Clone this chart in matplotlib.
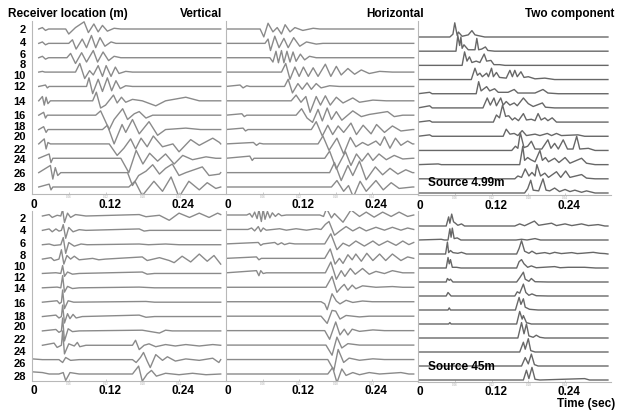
import matplotlib
matplotlib.use("Agg")
import matplotlib.pyplot as plt
from matplotlib.transforms import offset_copy

plt.rcParams["font.family"] = ["Liberation Sans", "DejaVu Sans"]

# === DATA ===
# each trace: list of (time in s, amplitude in units of trace spacing)
receiver_labels = ["2", "4", "6", "8", "10", "12", "14", "16", "18", "20", "22", "24", "26", "28"]
time_labels = ["0", "0.12", "0.24"]
time_ticks = [0.0, 0.12, 0.24]
minor_ticks = [0.06, 0.12, 0.18, 0.24]

top_vertical = [
    [(0.017, 0.1), (0.022, -0.1), (0.027, 0), (0.055, 0), (0.060, -0.35), (0.071, 0.1), (0.085, 0.5), (0.092, -0.25), (0.101, 0.35), (0.108, -0.2), (0.115, 0.25), (0.123, -0.15), (0.134, 0.05), (0.145, 0)],
    [(0.017, 0.1), (0.022, -0.1), (0.027, 0), (0.060, 0), (0.066, 0.25), (0.072, -0.4), (0.082, 0.3), (0.089, -0.3), (0.097, 0.55), (0.104, -0.3), (0.111, 0.4), (0.119, -0.2), (0.129, 0.1), (0.137, 0)],
    [(0.017, 0.1), (0.022, -0.1), (0.027, 0), (0.057, 0), (0.063, 0.3), (0.071, -0.4), (0.081, 0.35), (0.089, -0.3), (0.100, 0.5), (0.107, -0.3), (0.116, 0.4), (0.125, -0.2), (0.134, 0.1), (0.145, 0)],
    [(0.017, 0.05), (0.021, 0), (0.071, 0), (0.078, 0.6), (0.086, -0.45), (0.094, 0.1), (0.100, -0.2), (0.108, 0.45), (0.115, -0.3), (0.121, 0.45), (0.129, -0.3), (0.136, 0.35), (0.142, -0.1), (0.153, 0.05), (0.164, 0)],
    [(0.022, 0.1), (0.025, -0.1), (0.028, 0), (0.089, 0), (0.093, 0.6), (0.099, -0.5), (0.108, 0.5), (0.115, -0.35), (0.123, 0.6), (0.130, -0.3), (0.137, 0.4), (0.144, -0.15), (0.153, 0.05), (0.164, 0)],
    [(0.017, 0.3), (0.020, -0.3), (0.023, 0.25), (0.026, -0.2), (0.030, 0), (0.099, 0), (0.105, 0.6), (0.112, -0.5), (0.120, -0.3), (0.133, 0.4), (0.139, -0.15), (0.146, 0.25), (0.153, -0.1), (0.164, 0.1), (0.180, 0), (0.202, -0.35), (0.218, 0), (0.251, 0.25), (0.273, 0)],
    [(0.019, 0.2), (0.022, -0.2), (0.025, 0), (0.104, 0), (0.112, 0.3), (0.126, -1.0), (0.134, -0.3), (0.148, 0.45), (0.156, -0.3), (0.167, 0.1), (0.175, 0.25), (0.186, -0.2), (0.197, 0)],
    [(0.019, 0.2), (0.023, -0.2), (0.026, 0), (0.115, 0), (0.123, 0.3), (0.134, -1.0), (0.147, 0.35), (0.153, -0.2), (0.164, 0.7), (0.175, -0.3), (0.191, 0.55), (0.205, -0.4), (0.218, 0), (0.251, 0.1), (0.275, 0)],
    [(0.020, 0.35), (0.023, -0.35), (0.026, 0.1), (0.030, 0), (0.126, 0), (0.139, -0.8), (0.150, -0.3), (0.161, 0.35), (0.169, -0.35), (0.178, 0.4), (0.188, -0.2), (0.198, 0.55), (0.213, -0.2), (0.230, 0), (0.240, -0.55), (0.259, 0.3), (0.273, -0.1), (0.295, 0.4), (0.306, 0.1)],
    [(0.028, 0.3), (0.031, -0.3), (0.034, 0), (0.145, 0), (0.158, -1.0), (0.170, 0.55), (0.181, -0.4), (0.192, 0.35), (0.205, -0.2), (0.218, 0.3), (0.232, -0.4), (0.246, 0.2), (0.262, -0.1), (0.284, 0.1), (0.300, 0)],
    [(0.030, 0.5), (0.034, -0.45), (0.038, 0.35), (0.042, -0.2), (0.047, 0), (0.156, 0), (0.164, -0.9), (0.174, -0.2), (0.186, 0.1), (0.197, 0.55), (0.208, -0.1), (0.218, 0.3), (0.229, 0.6), (0.240, -0.2), (0.251, 0), (0.278, 0.4), (0.289, -0.2), (0.306, -0.1)],
    [(0.028, 0.2), (0.031, -0.2), (0.034, 0), (0.158, 0), (0.168, 0.4), (0.180, -0.6), (0.199, 0.4), (0.213, -0.3), (0.227, 0.7), (0.240, -0.7), (0.256, 0.4), (0.273, -0.2), (0.286, 0.3), (0.300, -0.1)],
]

top_horizontal = [
    [(0.056, 0), (0.062, -0.55), (0.069, 0.4), (0.077, -0.2), (0.084, 0.1), (0.091, -0.35), (0.097, 0.3), (0.105, -0.2), (0.113, 0.1), (0.126, -0.1), (0.143, 0.05), (0.154, 0)],
    [(0.064, 0), (0.069, 0.3), (0.073, -0.5), (0.080, 0.5), (0.087, -0.3), (0.095, 0.35), (0.102, -0.3), (0.111, 0.4), (0.121, -0.2), (0.132, 0.1), (0.148, -0.05), (0.159, 0)],
    [(0.072, 0), (0.077, -0.3), (0.082, 0.45), (0.086, -0.35), (0.091, 0.5), (0.095, -0.35), (0.100, 0.45), (0.105, -0.3), (0.110, 0.4), (0.115, -0.25), (0.122, 0.25), (0.129, -0.15), (0.137, 0.1), (0.148, 0)],
    [(0.091, 0), (0.098, 0.6), (0.105, -0.5), (0.113, 0.35), (0.120, -0.3), (0.127, 0.35), (0.135, -0.3), (0.143, 0.3), (0.151, -0.3), (0.163, 0.55), (0.172, -0.3), (0.181, 0.4), (0.189, -0.2), (0.200, 0.25), (0.211, -0.15), (0.222, 0.15), (0.235, -0.1), (0.252, 0.05), (0.273, 0)],
    [(0.023, 0.1), (0.028, -0.1), (0.034, 0.05), (0.039, 0), (0.096, 0), (0.102, 0.5), (0.109, -0.45), (0.118, 0.2), (0.125, -0.2), (0.133, 0.25), (0.140, -0.2), (0.148, 0.2), (0.156, -0.1), (0.170, 0.05), (0.186, 0)],
    [(0.107, 0), (0.115, 0.4), (0.123, -0.1), (0.131, 0.3), (0.138, -0.8), (0.148, 0.3), (0.155, -0.3), (0.163, 0.35), (0.171, -0.3), (0.181, 0.25), (0.192, -0.15), (0.208, 0.2), (0.219, -0.1), (0.241, 0.05), (0.263, 0)],
    [(0.026, 0.1), (0.030, -0.1), (0.034, 0), (0.115, 0), (0.124, 0.45), (0.133, -0.2), (0.142, -0.5), (0.151, 0.4), (0.158, -0.4), (0.166, 0.5), (0.173, -0.3), (0.181, 0.25), (0.190, -0.35), (0.208, 0.3), (0.222, -0.1), (0.235, 0.05), (0.265, 0.25), (0.276, -0.1), (0.290, 0)],
    [(0.028, 0.1), (0.032, -0.1), (0.036, 0), (0.140, 0), (0.148, 0.55), (0.158, -0.45), (0.167, 0.3), (0.175, -0.35), (0.184, 0.25), (0.193, -0.2), (0.205, 0.45), (0.214, -0.35), (0.225, 0.3), (0.238, -0.3), (0.247, 0.35), (0.260, -0.2), (0.273, 0.25), (0.287, -0.1), (0.306, 0)],
    [(0.045, 0.1), (0.050, -0.1), (0.055, 0.05), (0.061, 0), (0.151, 0), (0.159, 0.55), (0.169, -0.45), (0.182, 0.4), (0.193, -0.7), (0.204, 0.45), (0.213, -0.2), (0.224, 0.1), (0.233, -0.1), (0.246, 0.2), (0.253, -0.1), (0.260, 0.5), (0.269, -0.3), (0.278, 0.4), (0.287, -0.1), (0.298, 0.2), (0.306, 0)],
    [(0.039, 0.15), (0.043, -0.15), (0.046, 0), (0.162, 0), (0.170, 0.5), (0.181, -0.75), (0.196, 0.45), (0.205, -0.5), (0.214, 0.3), (0.223, -0.2), (0.233, 0.35), (0.241, -0.15), (0.251, 0.3), (0.263, -0.1), (0.276, 0.2), (0.290, -0.05), (0.306, 0)],
    [(0.170, 0), (0.178, 0.7), (0.189, -0.55), (0.200, 0.5), (0.208, -0.2), (0.219, 0.8), (0.230, -0.5), (0.245, 0.4), (0.257, -0.15), (0.269, 0.3), (0.282, -0.1), (0.295, 0.2), (0.306, 0)],
    [(0.173, 0), (0.182, 0.45), (0.193, -0.3), (0.201, 0.1), (0.209, -0.7), (0.220, 0.4), (0.230, -0.3), (0.246, 0.45), (0.258, -0.2), (0.271, 0.3), (0.284, -0.1), (0.306, 0)],
]

top_two_component = [
    [(0.052, 0), (0.057, 0.2), (0.060, 1.0), (0.064, 0.1), (0.066, 0.35), (0.072, 0.05), (0.082, 0.15), (0.088, 0.45), (0.093, 0.15), (0.098, 0.1), (0.109, 0)],
    [(0.062, 0), (0.065, 1.1), (0.068, 0.4), (0.070, 1.0), (0.072, 0.2), (0.075, 0.45), (0.082, 0.1), (0.093, 0.1), (0.096, 0.9), (0.099, 0.1), (0.104, 0.15), (0.110, 0.3), (0.114, 0.05), (0.125, 0)],
    [(0.072, 0), (0.076, 0.95), (0.080, 0.3), (0.084, 0.6), (0.088, 0.2), (0.095, 0.3), (0.101, 0.2), (0.108, 0.8), (0.112, 0.3), (0.119, 0.35), (0.124, 0.05), (0.133, 0.05), (0.142, 0)],
    [(0.087, 0), (0.093, 0.8), (0.097, 0.3), (0.101, 0.45), (0.105, 0.2), (0.112, 0.45), (0.115, 0.2), (0.120, 0.8), (0.123, 0.2), (0.128, 0.5), (0.133, 0.15), (0.144, 0.1), (0.150, 0.65), (0.154, 0.2), (0.158, 0.65), (0.162, 0.2), (0.168, 0.55), (0.173, 0.15), (0.180, 0.2), (0.191, 0.05), (0.207, 0.1), (0.223, 0)],
    [(0.019, 0.1), (0.023, 0), (0.095, 0), (0.099, 0.85), (0.103, 0.2), (0.112, 0.5), (0.117, 0.2), (0.125, 0.35), (0.131, 0.1), (0.147, 0.1), (0.157, 0.3), (0.163, 0.05), (0.191, 0.05), (0.204, 0.3), (0.212, 0.05), (0.229, 0)],
    [(0.019, 0.15), (0.023, 0), (0.106, 0), (0.113, 0.7), (0.118, 0.2), (0.124, 0.7), (0.128, 0.15), (0.135, 0.7), (0.139, 0.2), (0.144, 0.45), (0.150, 0.2), (0.157, 0.35), (0.162, 0.15), (0.172, 0.7), (0.180, 0.3), (0.188, 0.1), (0.203, 0.35), (0.208, 0.05), (0.223, 0)],
    [(0.019, 0.1), (0.023, 0), (0.123, 0), (0.128, 0.5), (0.133, 0.3), (0.138, 1.2), (0.143, 0.4), (0.148, 0.45), (0.154, 0.15), (0.158, 0.3), (0.164, 0.1), (0.172, 0.6), (0.177, 0.15), (0.185, 0.2), (0.191, 0.1), (0.196, 0.6), (0.201, 0.15), (0.207, 0.3), (0.212, 0.1), (0.219, 0.3), (0.226, 0)],
    [(0.019, 0.1), (0.023, 0), (0.139, 0), (0.144, 0.5), (0.150, 0.15), (0.157, 0.2), (0.163, 0.05), (0.170, 0.4), (0.177, 0.05), (0.191, 0.15), (0.199, 0.05), (0.211, 0.2), (0.218, 0.05), (0.226, 0.2), (0.234, 0.05), (0.261, 0.1), (0.272, 0)],
    [(0.153, 0), (0.159, 0.3), (0.163, 0.15), (0.167, 1.25), (0.173, 0.2), (0.179, 0.3), (0.185, 0.65), (0.191, 0.1), (0.202, 0.1), (0.212, 0.75), (0.217, 0.15), (0.223, 0.5), (0.229, 0.1), (0.237, 0.75), (0.244, 0.1), (0.253, 0.1), (0.259, 1.0), (0.264, 0.1), (0.278, 0.15), (0.289, 0)],
    [(0.033, 0.05), (0.038, 0), (0.166, 0), (0.171, 1.3), (0.174, 0.3), (0.179, 0.5), (0.184, 0.35), (0.191, 0.2), (0.199, 1.0), (0.203, 0.3), (0.208, 0.5), (0.213, 0.2), (0.223, 0.45), (0.230, 0.15), (0.240, 0.5), (0.248, 0.1), (0.267, 0.45), (0.275, 0.1), (0.289, 0)],
    [(0.158, 0), (0.163, 0.2), (0.169, 0.1), (0.175, 0.7), (0.181, 0.2), (0.186, 0.45), (0.191, 0.2), (0.194, 1.0), (0.200, 0.2), (0.207, 0.4), (0.213, 0.1), (0.226, 0.5), (0.233, 0.1), (0.241, 0.55), (0.248, 0.1), (0.267, 0.3), (0.275, 0.05), (0.289, 0)],
    [(0.174, 0), (0.179, 0.3), (0.184, 0.9), (0.188, 0.2), (0.197, 0.15), (0.204, 1.0), (0.209, 0.2), (0.215, 0.15), (0.223, 0.35), (0.231, 0.1), (0.240, 0.25), (0.248, 0.1), (0.256, 0.2), (0.267, 0.05), (0.275, 0.15), (0.289, 0)],
]

bottom_vertical = [
    [(0.028, 0.1), (0.033, -0.1), (0.041, 0.05), (0.047, 0), (0.050, 0.45), (0.053, -0.45), (0.058, 0.2), (0.063, -0.1), (0.071, 0.1), (0.088, 0), (0.175, 0.1), (0.186, -0.05), (0.208, 0.05), (0.224, -0.3), (0.240, 0.2), (0.257, -0.1), (0.273, 0.2), (0.289, -0.1), (0.303, 0.2), (0.308, 0.1)],
    [(0.028, 0.1), (0.033, -0.1), (0.039, 0.1), (0.044, -0.05), (0.048, 0), (0.051, 0.4), (0.055, -0.55), (0.060, 0.2), (0.067, -0.1), (0.077, 0.05), (0.088, 0), (0.175, 0.1), (0.183, -0.05), (0.192, 0)],
    [(0.028, 0.05), (0.036, -0.05), (0.047, 0), (0.051, 0.5), (0.055, -0.6), (0.060, 0.15), (0.069, -0.1), (0.080, 0.05), (0.090, 0), (0.175, 0.05), (0.190, 0), (0.218, 0.05), (0.240, 0)],
    [(0.031, 0.1), (0.036, -0.1), (0.044, 0), (0.048, 0.65), (0.052, -0.35), (0.057, 0.25), (0.063, 0), (0.069, 0.2), (0.077, -0.05), (0.099, 0.05), (0.109, -0.05), (0.120, 0), (0.180, 0.15), (0.188, -0.1), (0.208, 0.1), (0.224, -0.1), (0.232, -0.25), (0.245, 0.2), (0.259, -0.2), (0.273, 0.35), (0.286, -0.15), (0.297, 0.25), (0.308, -0.35)],
    [(0.039, 0.05), (0.047, 0), (0.050, 0.55), (0.053, -0.2), (0.058, 0.1), (0.066, -0.05), (0.077, 0), (0.180, 0.1), (0.188, -0.05), (0.200, 0)],
    [(0.041, 0.05), (0.047, 0), (0.050, 0.85), (0.053, -0.3), (0.058, 0.1), (0.066, -0.05), (0.077, 0), (0.175, 0.05), (0.200, 0)],
    [(0.041, 0.1), (0.045, -0.1), (0.048, 0), (0.050, 0.85), (0.053, -0.45), (0.059, 0.1), (0.068, 0), (0.186, 0.05), (0.200, 0)],
    [(0.039, 0.1), (0.044, -0.1), (0.048, 0), (0.050, 0.8), (0.053, -0.45), (0.058, 0.2), (0.062, -0.15), (0.067, 0.15), (0.072, -0.1), (0.082, 0), (0.175, 0.1), (0.186, -0.05), (0.200, 0)],
    [(0.039, 0.1), (0.044, -0.1), (0.048, 0), (0.050, 0.9), (0.053, -0.7), (0.059, 0.15), (0.066, -0.05), (0.077, 0), (0.180, 0.05), (0.208, -0.15), (0.218, 0.05), (0.229, 0)],
    [(0.036, 0.15), (0.041, -0.15), (0.048, 0), (0.050, 1.0), (0.053, -0.6), (0.060, 0.1), (0.069, -0.05), (0.074, 0.2), (0.078, -0.1), (0.088, 0), (0.164, 0), (0.169, 0.35), (0.175, -0.3), (0.183, 0), (0.191, 0.1), (0.202, -0.1), (0.218, 0.05), (0.234, -0.05), (0.251, 0.05), (0.273, -0.05), (0.295, 0.05)],
    [(0.001, 0.05), (0.017, 0), (0.044, 0), (0.050, -0.2), (0.055, 0.15), (0.063, -0.05), (0.077, 0), (0.164, 0), (0.170, -0.2), (0.177, 0.15), (0.182, 0.5), (0.188, -0.1), (0.193, -0.55), (0.202, 0.35), (0.213, -0.05), (0.221, 0.2), (0.234, -0.1), (0.251, 0.05), (0.273, -0.05), (0.295, 0.1), (0.305, -0.2)],
    [(0.001, 0.15), (0.017, 0.1), (0.028, 0), (0.044, 0), (0.051, 0.1), (0.055, -0.45), (0.062, 0.1), (0.077, 0), (0.164, 0), (0.174, 0.55), (0.180, -0.5), (0.188, 0), (0.195, 0.25), (0.203, -0.15), (0.218, 0.05), (0.240, -0.05), (0.262, 0.05), (0.284, -0.05)],
]

bottom_horizontal = [
    [(0.034, 0), (0.039, 0.1), (0.043, -0.15), (0.047, 0.2), (0.051, -0.25), (0.054, 0.35), (0.058, -0.45), (0.061, 0.4), (0.064, -0.3), (0.068, 0.25), (0.072, -0.2), (0.076, 0.15), (0.081, -0.1), (0.086, 0.1), (0.091, -0.05), (0.099, 0), (0.154, 0), (0.160, -0.1), (0.165, 0.45), (0.173, -0.2), (0.178, 0.1), (0.192, -0.5), (0.205, 0.35), (0.219, -0.1), (0.230, 0.2), (0.243, -0.15), (0.257, 0.2), (0.271, -0.1), (0.284, 0.2), (0.298, -0.1)],
    [(0.036, 0), (0.042, 0.1), (0.047, -0.1), (0.053, 0.2), (0.057, -0.15), (0.061, 0.1), (0.066, -0.05), (0.088, 0.05), (0.099, -0.05), (0.115, 0.05), (0.132, -0.05), (0.148, 0.05), (0.156, 0), (0.163, 0.35), (0.169, 0.55), (0.178, -0.4), (0.187, -0.1), (0.197, 0.2), (0.208, -0.1), (0.219, 0.15), (0.230, -0.1), (0.246, 0.15), (0.260, -0.05), (0.273, 0.15), (0.287, -0.05), (0.298, 0.1)],
    [(0.053, 0.1), (0.057, -0.1), (0.061, 0), (0.080, 0.1), (0.085, -0.05), (0.091, 0.08), (0.096, -0.05), (0.104, 0.05), (0.113, 0), (0.162, 0), (0.172, 0.7), (0.182, -0.4), (0.192, 0.05), (0.202, -0.15), (0.213, 0.2), (0.227, -0.15), (0.241, 0.2), (0.251, -0.1), (0.265, 0.2), (0.279, -0.1), (0.290, 0.2), (0.300, -0.05), (0.308, 0.1)],
    [(0.050, 0.1), (0.054, -0.1), (0.058, 0), (0.162, 0), (0.171, 0.65), (0.179, -0.4), (0.186, 0), (0.192, -0.35), (0.200, 0.25), (0.207, -0.1), (0.213, 0.3), (0.222, -0.2), (0.231, 0.35), (0.241, -0.15), (0.252, 0.3), (0.262, -0.15), (0.273, 0.3), (0.287, -0.15), (0.298, 0.1)],
    [(0.050, 0.15), (0.054, -0.2), (0.057, 0.15), (0.061, -0.05), (0.066, 0), (0.163, 0), (0.172, 0.75), (0.181, -0.45), (0.189, 0.15), (0.195, -0.25), (0.204, 0.3), (0.212, -0.1), (0.224, 0.3), (0.235, -0.1), (0.246, 0.1), (0.260, -0.05), (0.273, 0.15), (0.290, 0)],
    [(0.164, 0), (0.174, 0.75), (0.182, -0.35), (0.189, 0), (0.194, 0.2), (0.200, -0.2), (0.207, 0.15), (0.213, -0.1), (0.224, 0.1), (0.246, 0), (0.273, 0.05), (0.290, 0)],
    [(0.156, 0), (0.162, -0.15), (0.166, -0.55), (0.174, 0.55), (0.181, 0.05), (0.187, -0.15), (0.197, 0.1), (0.208, -0.05), (0.224, 0.05), (0.240, 0)],
    [(0.156, 0), (0.166, -0.5), (0.174, 0.4), (0.180, 0.35), (0.187, -0.2), (0.197, 0.05), (0.219, -0.05), (0.235, 0)],
    [(0.162, 0), (0.170, -0.6), (0.180, 0.6), (0.187, -0.3), (0.194, 0.1), (0.200, -0.3), (0.207, 0.1), (0.219, -0.05), (0.241, 0.05), (0.260, 0)],
    [(0.164, 0), (0.174, -0.7), (0.182, 0.55), (0.190, -0.2), (0.200, 0.1), (0.219, 0)],
    [(0.167, 0), (0.177, -0.75), (0.184, 0.7), (0.193, -0.2), (0.202, 0.1), (0.219, -0.05), (0.241, 0.05), (0.260, 0)],
    [(0.167, 0), (0.175, 0.45), (0.182, -0.6), (0.190, 0.35), (0.197, -0.1), (0.208, 0.1), (0.219, -0.05), (0.235, 0.1), (0.252, 0), (0.287, 0.1), (0.300, 0)],
]

bottom_two_component = [
    [(0.046, 0), (0.050, 0.65), (0.052, 0.2), (0.055, 0.85), (0.058, 0.3), (0.061, 0.2), (0.065, 0.05), (0.071, 0.15), (0.076, 0), (0.158, 0), (0.166, 0.15), (0.174, 0.02), (0.190, 0.35), (0.197, 0.05), (0.218, 0.2), (0.226, 0.03), (0.240, 0.15), (0.251, 0.03), (0.267, 0.15), (0.278, 0.03), (0.294, 0.1), (0.305, 0)],
    [(0.038, 0.05), (0.043, 0), (0.049, 0), (0.052, 0.8), (0.054, 0.2), (0.056, 0.85), (0.059, 0.1), (0.064, 0.15), (0.070, 0), (0.160, 0), (0.169, 0.05), (0.178, 0), (0.191, 0.1), (0.200, 0)],
    [(0.045, 0), (0.048, 0.85), (0.050, 0.1), (0.053, 0.25), (0.057, 0.1), (0.065, 0.05), (0.071, 0.12), (0.079, 0), (0.161, 0), (0.165, 0.4), (0.169, 0.95), (0.174, 0.2), (0.181, 0.05), (0.186, 0.2), (0.193, 0.02), (0.207, 0.1), (0.215, 0.02), (0.223, 0.12), (0.234, 0.03), (0.251, 0.1), (0.260, 0.03), (0.267, 0.05), (0.286, 0.12), (0.297, 0.05), (0.305, 0.03)],
    [(0.046, 0), (0.049, 0.75), (0.051, 0.3), (0.053, 0.6), (0.056, 0.05), (0.063, 0.05), (0.070, 0), (0.161, 0), (0.165, 0.45), (0.169, 0.6), (0.173, 0.3), (0.179, 0.05), (0.185, 0.15), (0.193, 0.02), (0.223, 0.1), (0.232, 0.02), (0.245, 0.05), (0.272, 0.05), (0.290, 0)],
    [(0.046, 0), (0.048, 0.25), (0.051, 0.12), (0.053, 0.2), (0.057, 0), (0.161, 0), (0.166, 0.3), (0.172, 0.7), (0.175, 0.2), (0.181, 0.05), (0.185, 0.25), (0.191, 0.02), (0.212, 0)],
    [(0.046, 0), (0.049, 0.25), (0.052, 0.1), (0.054, 0), (0.158, 0), (0.162, 0.3), (0.166, 0.2), (0.172, 0.85), (0.176, 0.25), (0.181, 0.05), (0.186, 0.15), (0.193, 0.02), (0.212, 0)],
    [(0.049, 0), (0.051, 0.15), (0.053, 0), (0.159, 0), (0.165, 0.9), (0.168, 0.4), (0.172, 0.8), (0.175, 0.2), (0.182, 0.05), (0.196, 0)],
    [(0.050, 0), (0.052, 0.1), (0.054, 0), (0.161, 0), (0.166, 0.9), (0.170, 0.35), (0.172, 0.6), (0.177, 0.1), (0.185, 0)],
    [(0.163, 0), (0.169, 1.1), (0.173, 0.3), (0.177, 1.0), (0.181, 0.15), (0.188, 0.05), (0.193, 0.2), (0.199, 0.05), (0.207, 0)],
    [(0.166, 0), (0.172, 0.7), (0.175, 0.2), (0.180, 0.95), (0.184, 0.1), (0.191, 0)],
    [(0.169, 0), (0.175, 0.6), (0.180, 0.15), (0.185, 0.85), (0.190, 0.1), (0.196, 0)],
    [(0.172, 0), (0.177, 0.7), (0.181, 0.1), (0.186, 0.9), (0.191, 0.05), (0.199, 0), (0.272, 0.1), (0.280, 0)],
]

# === LAYOUT (pixels of a 625x414 canvas) ===
W, H = 625, 414
T_MAX = 0.315
GRAY = "#8a8a8a"
DARK = "#676767"

# traces, x0, x1, top, bottom, first baseline, last baseline, colour, trace start, trace end
panels = [
    (top_vertical, 32, 225, 22, 195, 30, 188, GRAY, 0.011, 0.308),
    (top_horizontal, 226, 418, 22, 195, 30, 188, GRAY, 0.0, 0.308),
    (top_two_component, 418, 611, 22, 196, 38, 194, DARK, 0.0, 0.31),
    (bottom_vertical, 32, 225, 212, 382, 217, 375, GRAY, 0.017, 0.308),
    (bottom_horizontal, 226, 418, 212, 382, 216, 375, GRAY, 0.0, 0.308),
    (bottom_two_component, 418, 611, 212, 383, 227, 381, DARK, 0.0, 0.31),
]

fig = plt.figure(figsize=(W / 100, H / 100), dpi=100)
fig.patch.set_facecolor("white")

for i, (traces, x0, x1, top, bot, first, last, color, t0, t1) in enumerate(panels):
    ax = fig.add_axes([x0 / W, 1 - bot / H, (x1 - x0) / W, (bot - top) / H])
    n = len(traces)
    step = (last - first) / (n - 1)
    ax.set_ylim(-(n - 1) - (bot - last) / step, (first - top) / step)
    ax.set_xlim(0, T_MAX)

    for k, pts in enumerate(traces):
        ts = [p[0] for p in pts]
        amps = [p[1] for p in pts]
        if ts[0] > t0:
            ts.insert(0, t0)
            amps.insert(0, 0)
        if ts[-1] < t1:
            ts.append(t1)
            amps.append(0)
        ax.plot(ts, [a - k for a in amps], color=color, lw=1.0, solid_joinstyle="round")

    for side in ["top", "right"]:
        ax.spines[side].set_visible(False)
    for side in ["left", "bottom"]:
        ax.spines[side].set_color("#b8b8b8")
        ax.spines[side].set_linewidth(0.8)
    ax.set_yticks([])
    ax.set_xticks(minor_ticks)
    ax.set_xticklabels([f"{m:.2f}" for m in minor_ticks], fontsize=2.2, color="#aaaaaa")
    ax.tick_params(axis="x", direction="in", length=1.5, width=0.5, color="#b8b8b8", pad=0.3)
    ax.patch.set_alpha(0)

    # bold time labels under each panel
    dy = -10 if i < 3 else -9
    for t, lab in zip(time_ticks, time_labels):
        tr = offset_copy(ax.get_xaxis_transform(), fig=fig, x=4 if t > 0 else 2, y=dy, units="dots")
        ax.text(t, 0, lab, transform=tr, ha="center", va="center", fontsize=8.5, fontweight="bold")

# receiver location labels
top_label_y = [30, 43, 55, 65, 76, 87, 102, 116, 127, 137, 150, 160, 174, 188]
bottom_label_y = [219, 231, 244, 256, 267, 278, 289, 304, 317, 327, 340, 352, 364, 377]
for ys in (top_label_y, bottom_label_y):
    for lab, y in zip(receiver_labels, ys):
        fig.text(26 / W, 1 - y / H, lab, ha="right", va="center", fontsize=8, fontweight="bold")

fig.text(8 / W, 1 - 14 / H, "Receiver location (m)", ha="left", va="center", fontsize=8.5, fontweight="bold")
fig.text(222 / W, 1 - 14 / H, "Vertical", ha="right", va="center", fontsize=8.5, fontweight="bold")
fig.text(424 / W, 1 - 14 / H, "Horizontal", ha="right", va="center", fontsize=8.5, fontweight="bold")
fig.text(614 / W, 1 - 14 / H, "Two component", ha="right", va="center", fontsize=8.5, fontweight="bold")
fig.text(428 / W, 1 - 183 / H, "Source 4.99m", ha="left", va="center", fontsize=8.5, fontweight="bold")
fig.text(428 / W, 1 - 367 / H, "Source 45m", ha="left", va="center", fontsize=8.5, fontweight="bold")
fig.text(615 / W, 1 - 404 / H, "Time (sec)", ha="right", va="center", fontsize=8.5, fontweight="bold")

fig.savefig("out.png", dpi=100, facecolor="white")
